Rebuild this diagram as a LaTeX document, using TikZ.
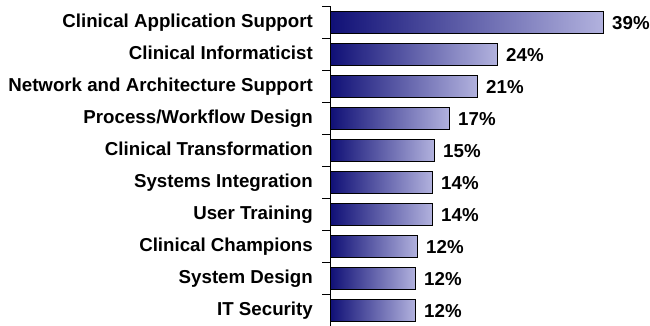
\documentclass[tikz,border=0pt]{standalone}
\usepackage{fontspec}
\setmainfont{Liberation Sans}
\usepackage{xcolor}
\usepackage{tikz}
\definecolor{barDark}{RGB}{16,16,118}
\definecolor{barLight}{RGB}{178,178,222}
\newcommand\pc[1]{\textbf{#1\%}}

\begin{document}
\begin{tikzpicture}[x=1pt,y=-1pt,
    font=\fontsize{18.7}{20}\selectfont\bfseries,
    bar/.style={draw=black,line width=1pt,left color=barDark,right color=barLight,
      anchor=west,inner sep=0pt,minimum height=22pt},
    cat/.style={anchor=base east,inner sep=0pt},
    val/.style={anchor=base west,inner sep=0pt}]
      \useasboundingbox (0,0) rectangle (650,325);

      \coordinate (AxTop) at (330,6);
      \coordinate (AxBot) at (330,326);

      \node[bar,minimum width=273pt] (bA) at (330,22) {};
      \node[bar,minimum width=167pt] (bB) at (330,54) {};
      \node[bar,minimum width=147pt] (bC) at (330,86) {};
      \node[bar,minimum width=119pt] (bD) at (330,118) {};
      \node[bar,minimum width=104pt] (bE) at (330,150) {};
      \node[bar,minimum width=102pt] (bF) at (330,182) {};
      \node[bar,minimum width=102pt] (bG) at (330,214) {};
      \node[bar,minimum width=87pt] (bH) at (330,246) {};
      \node[bar,minimum width=85pt] (bI) at (330,278) {};
      \node[bar,minimum width=85pt] (bJ) at (330,310) {};

      \node[cat] (cA) at ([xshift=-17pt,yshift=-5pt]bA.west) {Clinical Application Support};
      \node[cat] (cB) at ([xshift=-17pt,yshift=-5pt]bB.west) {Clinical Informaticist};
      \node[cat] (cC) at ([xshift=-17pt,yshift=-5pt]bC.west) {Network and Architecture Support};
      \node[cat] (cD) at ([xshift=-17pt,yshift=-5pt]bD.west) {Process/Workflow Design};
      \node[cat] (cE) at ([xshift=-17pt,yshift=-5pt]bE.west) {Clinical Transformation};
      \node[cat] (cF) at ([xshift=-17pt,yshift=-5pt]bF.west) {Systems Integration};
      \node[cat] (cG) at ([xshift=-17pt,yshift=-5pt]bG.west) {User Training};
      \node[cat] (cH) at ([xshift=-17pt,yshift=-5pt]bH.west) {Clinical Champions};
      \node[cat] (cI) at ([xshift=-17pt,yshift=-5pt]bI.west) {System Design};
      \node[cat] (cJ) at ([xshift=-17pt,yshift=-5pt]bJ.west) {IT Security};

      \node[val] (vA) at ([xshift=8pt,yshift=-7.5pt]bA.east) {\pc{39}};
      \node[val] (vB) at ([xshift=8pt,yshift=-7.5pt]bB.east) {\pc{24}};
      \node[val] (vC) at ([xshift=8pt,yshift=-7.5pt]bC.east) {\pc{21}};
      \node[val] (vD) at ([xshift=8pt,yshift=-7.5pt]bD.east) {\pc{17}};
      \node[val] (vE) at ([xshift=8pt,yshift=-7.5pt]bE.east) {\pc{15}};
      \node[val] (vF) at ([xshift=8pt,yshift=-7.5pt]bF.east) {\pc{14}};
      \node[val] (vG) at ([xshift=8pt,yshift=-7.5pt]bG.east) {\pc{14}};
      \node[val] (vH) at ([xshift=8pt,yshift=-7.5pt]bH.east) {\pc{12}};
      \node[val] (vI) at ([xshift=8pt,yshift=-7.5pt]bI.east) {\pc{12}};
      \node[val] (vJ) at ([xshift=8pt,yshift=-7.5pt]bJ.east) {\pc{12}};

      % axis and ticks
      \draw[line width=0.8pt] (AxTop) -- (AxBot);
      \foreach \t in {6,38,70,102,134,166,198,230,262,294}
        \draw[line width=0.8pt] (330,\t) -- ++(-8,0);
    \end{tikzpicture}
\end{document}
